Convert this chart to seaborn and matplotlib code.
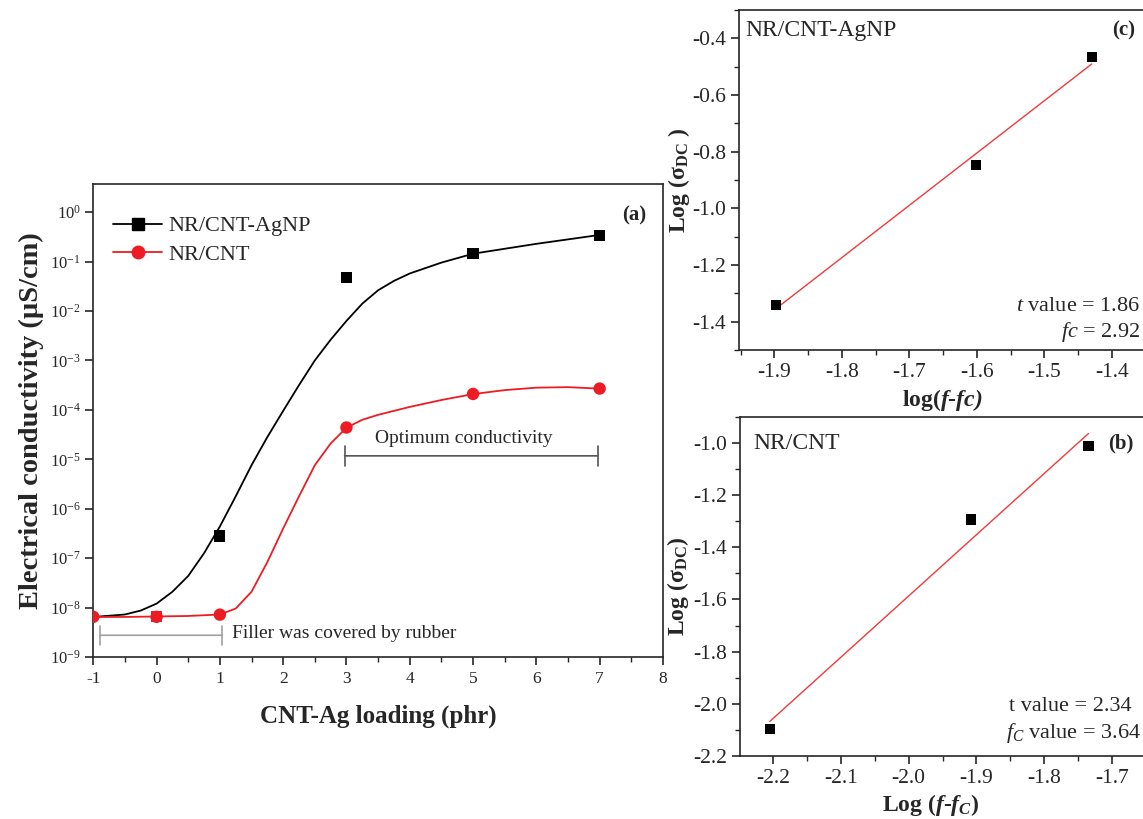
import pandas as pd
import seaborn as sns
import matplotlib.pyplot as plt
from matplotlib.lines import Line2D
from matplotlib.ticker import LogLocator, MultipleLocator, NullLocator, LogFormatterSciNotation

# ---- panel (a): conductivity vs loading ----
loading = [-1, 0, 1, 3, 5, 7]
agnp_sigma = [6.5e-9, 6.5e-9, 2.8e-7, 4.8e-2, 1.47e-1, 3.4e-1]
cnt_sigma = [6.5e-9, 6.5e-9, 7.2e-9, 4.4e-5, 2.1e-4, 2.7e-4]

# fitted curves (log10 of conductivity)
agnp_curve_x = [-1.0, -0.5, -0.25, 0.0, 0.25, 0.5, 0.75, 1.0, 1.25, 1.5, 1.75, 2.0, 2.25,
                2.5, 2.75, 3.0, 3.25, 3.5, 3.75, 4.0, 4.5, 5.0, 5.5, 6.0, 6.5, 7.0]
agnp_curve_log = [-8.19, -8.14, -8.06, -7.92, -7.68, -7.36, -6.90, -6.36, -5.75, -5.12, -4.55, -4.02, -3.50,
                  -3.00, -2.58, -2.20, -1.85, -1.58, -1.39, -1.24, -1.02, -0.84, -0.74, -0.64, -0.55, -0.46]
cnt_curve_x = [-1.0, -0.5, 0.0, 0.5, 1.0, 1.25, 1.5, 1.75, 2.0, 2.25, 2.5, 2.75, 3.0,
               3.25, 3.5, 4.0, 4.5, 5.0, 5.5, 6.0, 6.5, 7.0]
cnt_curve_log = [-8.19, -8.19, -8.18, -8.17, -8.14, -8.02, -7.68, -7.08, -6.40, -5.75, -5.12, -4.68, -4.36,
                 -4.20, -4.10, -3.94, -3.80, -3.68, -3.60, -3.55, -3.54, -3.57]

# ---- panel (c): NR/CNT-AgNP scaling ----
c_logf = [-1.898, -1.601, -1.430]
c_logsigma = [-1.340, -0.846, -0.465]

# ---- panel (b): NR/CNT scaling ----
b_logf = [-2.205, -1.908, -1.7345]
b_logsigma = [-2.096, -1.294, -1.013]

RED = "#ed1c24"

sns.set_style("ticks")
plt.rcParams["font.family"] = ["Liberation Serif", "DejaVu Serif"]
plt.rcParams["mathtext.fontset"] = "custom"
plt.rcParams["mathtext.rm"] = "Liberation Serif"
plt.rcParams["mathtext.it"] = "Liberation Serif:italic"
plt.rcParams["mathtext.bf"] = "Liberation Serif:bold"
plt.rcParams["mathtext.bfit"] = "Liberation Serif:italic:bold"
plt.rcParams["axes.unicode_minus"] = False
plt.rcParams["axes.linewidth"] = 1.2
plt.rcParams["xtick.direction"] = "out"
plt.rcParams["ytick.direction"] = "out"

fig = plt.figure(figsize=(11.43, 8.19), dpi=100)

# ============ panel (a) ============
ax = fig.add_axes([0.0816, 0.1978, 0.4984, 0.5775])
agnp_curve = pd.DataFrame({"x": agnp_curve_x, "y": [10 ** v for v in agnp_curve_log]})
cnt_curve = pd.DataFrame({"x": cnt_curve_x, "y": [10 ** v for v in cnt_curve_log]})
sns.lineplot(data=agnp_curve, x="x", y="y", color="black", lw=1.3, sort=False, ax=ax)
sns.lineplot(data=cnt_curve, x="x", y="y", color=RED, lw=1.3, sort=False, ax=ax)

pts = pd.DataFrame({"loading": loading, "agnp": agnp_sigma, "cnt": cnt_sigma})
sns.scatterplot(data=pts[pts.loading >= 1], x="loading", y="agnp", marker="s", color="black",
                s=65, edgecolor="none", ax=ax, zorder=5)
sns.scatterplot(data=pts[pts.loading == 0], x="loading", y="agnp", marker="s", color=RED,
                s=65, edgecolor="none", ax=ax, zorder=5)
sns.scatterplot(data=pts, x="loading", y="cnt", marker="o", color=RED,
                s=80, edgecolor="none", ax=ax, zorder=6)

ax.set_yscale("log")
ax.set_xlim(-1, 8)
ax.set_ylim(1e-9, 10 ** 0.57)
ax.xaxis.set_major_locator(MultipleLocator(1))
ax.xaxis.set_minor_locator(MultipleLocator(0.5))
ax.yaxis.set_major_locator(LogLocator(base=10, numticks=20))
ax.yaxis.set_major_formatter(LogFormatterSciNotation())
ax.yaxis.set_minor_locator(NullLocator())
ax.tick_params(which="major", length=6, width=1.2, labelsize=12.5, pad=4)
ax.tick_params(axis="y", labelsize=12, pad=3)
ax.tick_params(which="minor", length=3.5, width=1.0)
ax.set_xlabel("CNT-Ag loading (phr)", fontsize=18, fontweight="bold")
ax.set_ylabel("Electrical conductivity (µS/cm)", fontsize=20.5, fontweight="bold")
ax.xaxis.set_label_coords(0.5, -0.10)
ax.yaxis.set_label_coords(-0.087, 0.5)

handles = [Line2D([], [], color="black", lw=1.3, marker="s", markersize=8),
           Line2D([], [], color=RED, lw=1.3, marker="o", markersize=9)]
ax.legend(handles, ["NR/CNT-AgNP", "NR/CNT"], loc="upper left", bbox_to_anchor=(0.0, 0.975),
          frameon=False, fontsize=16, handlelength=2.2, handletextpad=0.3, labelspacing=0.35)
ax.text(7.55, 10 ** -0.06, "(a)", fontsize=15, fontweight="bold", ha="center", va="center")

# brackets
OPT_START, OPT_END, OPT_Y = 2.97, 6.97, 10 ** -4.93
FIL_START, FIL_END, FIL_Y = -0.89, 1.04, 10 ** -8.56
ax.annotate("", xy=(OPT_END, OPT_Y), xytext=(OPT_START, OPT_Y),
            arrowprops=dict(arrowstyle="|-|,widthA=0.7,widthB=0.7", color="#555555", lw=1.2,
                            shrinkA=0, shrinkB=0))
ax.text(4.86, 10 ** -4.57, "Optimum conductivity", fontsize=14, ha="center", va="center")
ax.annotate("", xy=(FIL_END, FIL_Y), xytext=(FIL_START, FIL_Y),
            arrowprops=dict(arrowstyle="|-|,widthA=0.7,widthB=0.7", color="#a0a0a0", lw=1.2,
                            shrinkA=0, shrinkB=0))
ax.text(1.19, 10 ** -8.52, "Filler was covered by rubber", fontsize=14, ha="left", va="center")


def scaling_panel(axis, xs, ys):
    df = pd.DataFrame({"x": xs, "y": ys})
    sns.regplot(data=df, x="x", y="y", ci=None, ax=axis, marker="s",
                scatter_kws=dict(color="black", s=55, edgecolor="none", alpha=1, zorder=5),
                line_kws=dict(color="#f03a3a", lw=1.0))
    axis.spines["right"].set_visible(False)
    axis.tick_params(which="major", length=6, width=1.2, labelsize=15.5)
    axis.tick_params(which="minor", length=3.5, width=1.0)


# ============ panel (c) ============
axc = fig.add_axes([0.6468, 0.5726, 0.355, 0.4151])
scaling_panel(axc, c_logf, c_logsigma)
axc.set_xlim(-1.952, -1.351)
axc.set_ylim(-1.5, -0.3)
axc.xaxis.set_major_locator(MultipleLocator(0.1))
axc.xaxis.set_minor_locator(MultipleLocator(0.05))
axc.yaxis.set_major_locator(MultipleLocator(0.2))
axc.yaxis.set_minor_locator(MultipleLocator(0.1))
axc.set_xlabel(r"log($\mathbfit{f}$-$\mathbfit{fc)}$", fontsize=17, fontweight="bold")
axc.set_ylabel(r"Log ($\mathbf{\sigma_{DC}}$ )", fontsize=17, fontweight="bold")
axc.xaxis.set_label_coords(0.5, -0.11)
axc.yaxis.set_label_coords(-0.117, 0.5)
axc.text(0.014, 0.941, "NR/CNT-AgNP", transform=axc.transAxes, fontsize=17, ha="left", va="center")
axc.text(0.946, 0.941, "(c)", transform=axc.transAxes, fontsize=15, fontweight="bold",
         ha="center", va="center")
axc.text(0.988, 0.127, r"$\mathit{t}$ value = 1.86", transform=axc.transAxes, fontsize=16,
         ha="right", va="center")
axc.text(0.988, 0.054, r"$\mathit{fc}$ = 2.92", transform=axc.transAxes, fontsize=16,
         ha="right", va="center")

# ============ panel (b) ============
axb = fig.add_axes([0.6474, 0.0769, 0.355, 0.4143])
scaling_panel(axb, b_logf, b_logsigma)
axb.set_xlim(-2.249, -1.65)
axb.set_ylim(-2.2, -0.9)
axb.xaxis.set_major_locator(MultipleLocator(0.1))
axb.xaxis.set_minor_locator(MultipleLocator(0.05))
axb.yaxis.set_major_locator(MultipleLocator(0.2))
axb.yaxis.set_minor_locator(MultipleLocator(0.1))
axb.set_xlabel(r"Log ($\mathbfit{f}$-$\mathbfit{f}_{\mathbfit{C}}$)", fontsize=17, fontweight="bold")
axb.set_ylabel(r"Log ($\mathbf{\sigma_{DC}}$)", fontsize=17, fontweight="bold")
axb.xaxis.set_label_coords(0.47, -0.105)
axb.yaxis.set_label_coords(-0.121, 0.5)
axb.text(0.032, 0.922, "NR/CNT", transform=axb.transAxes, fontsize=17, ha="left", va="center")
axb.text(0.938, 0.922, "(b)", transform=axb.transAxes, fontsize=15, fontweight="bold",
         ha="center", va="center")
axb.text(0.965, 0.145, "t value = 2.34", transform=axb.transAxes, fontsize=16,
         ha="right", va="center")
axb.text(0.988, 0.067, r"$\mathit{f}_{\mathit{C}}$ value = 3.64", transform=axb.transAxes, fontsize=16,
         ha="right", va="center")

fig.savefig("out.png", dpi=100)
